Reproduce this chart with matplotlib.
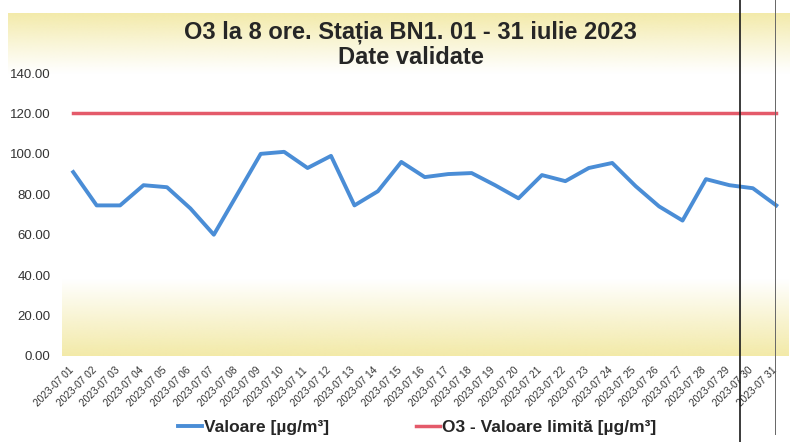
import numpy as np
import matplotlib
matplotlib.use("Agg")
import matplotlib.pyplot as plt
from matplotlib.lines import Line2D
from matplotlib.transforms import ScaledTranslation

plt.rcParams['font.family'] = ['Liberation Sans', 'DejaVu Sans']

# ---- data ----
days = list(range(1, 32))
tick_labels = [f"2023-07 {d:02d}" for d in days]
valoare = [91, 74.5, 74.5, 84.5, 83.5, 73, 60, 80, 100, 101, 93, 99, 74.5, 81.5,
           96, 88.5, 90, 90.5, 84.5, 78, 89.5, 86.5, 93, 95.5, 84, 74, 67, 87.5,
           84.5, 83, 74.5]
limita = [120] * 31
title = "O3 la 8 ore. Stația BN1. 01 - 31 iulie 2023\nDate validate"
series_names = ["Valoare [µg/m³]", "O3 - Valoare limită [µg/m³]"]

W, H = 796, 442
fig = plt.figure(figsize=(W / 100, H / 100), dpi=100)
fig.patch.set_facecolor('white')

yellow = np.array([243, 234, 168]) / 255.0

# top band gradient (chart area)
band = fig.add_axes([8 / W, (H - 74) / H, (790 - 8) / W, (74 - 13) / H], zorder=0)
n = 200
alpha = np.linspace(1, 0, n) ** 1.1
img = np.zeros((n, 2, 4))
img[:, :, :3] = yellow
img[:, :, 3] = alpha[:, None]
band.imshow(img, aspect='auto', extent=(0, 1, 0, 1), interpolation='bilinear')
band.set_axis_off()

# plot area
ax = fig.add_axes([61.5 / W, (H - 356) / H, (788 - 61.5) / W, (356 - 73) / H], zorder=1)
ax.set_xlim(0.5, 31.5)
ax.set_ylim(0, 140)
ax.patch.set_alpha(0)

yy = np.linspace(140, 0, 400)
a2 = np.clip(1 - yy / 38.0, 0, 1) ** 1.0
img2 = np.zeros((400, 2, 4))
img2[:, :, :3] = yellow
img2[:, :, 3] = a2[:, None]
ax.imshow(img2, aspect='auto', extent=(0.5, 31.5, 0, 140), interpolation='bilinear', zorder=0)

l1, = ax.plot(days, valoare, color='#4A8DD6', lw=2.8, solid_joinstyle='round', zorder=3)
l2, = ax.plot(days, limita, color='#E45A6A', lw=2.5, zorder=2)

for s in ax.spines.values():
    s.set_visible(False)

ax.set_yticks(range(0, 141, 20))
ax.set_yticklabels([f"{v:.2f}" for v in range(0, 141, 20)], fontsize=9.5, color='#333333')
ax.tick_params(axis='y', length=0, pad=8)
ax.set_xticks(days)
ax.set_xticklabels(tick_labels, rotation=45, ha='right', va='top',
                   rotation_mode='anchor', fontsize=7.3, color='#333333')
ax.tick_params(axis='x', length=0, pad=6)
off = ScaledTranslation(-5 / 100, -1 / 100, fig.dpi_scale_trans)
for lab in ax.get_xticklabels():
    lab.set_transform(lab.get_transform() + off)

fig.text(0.516, (H - 45) / H, title, ha='center', va='center', fontsize=17,
         fontweight='bold', color='#262626', linespacing=1.1)

fig.legend([l1, l2], series_names, loc='center', bbox_to_anchor=(0.524, 15 / H),
           ncol=2, frameon=False, handlelength=1.4, handletextpad=0.1,
           columnspacing=5.0, prop={'weight': 'bold', 'size': 12.5})
for t in fig.legends[0].get_texts():
    t.set_color('#262626')

# scan artifacts (vertical lines)
fig.add_artist(Line2D([740 / W, 740 / W], [0, 1], color='#1a1a1a', lw=1.2, transform=fig.transFigure))
fig.add_artist(Line2D([775 / W, 775 / W], [8 / H, 1], color='#666666', lw=0.7, transform=fig.transFigure))

fig.savefig('out.png', dpi=100)
